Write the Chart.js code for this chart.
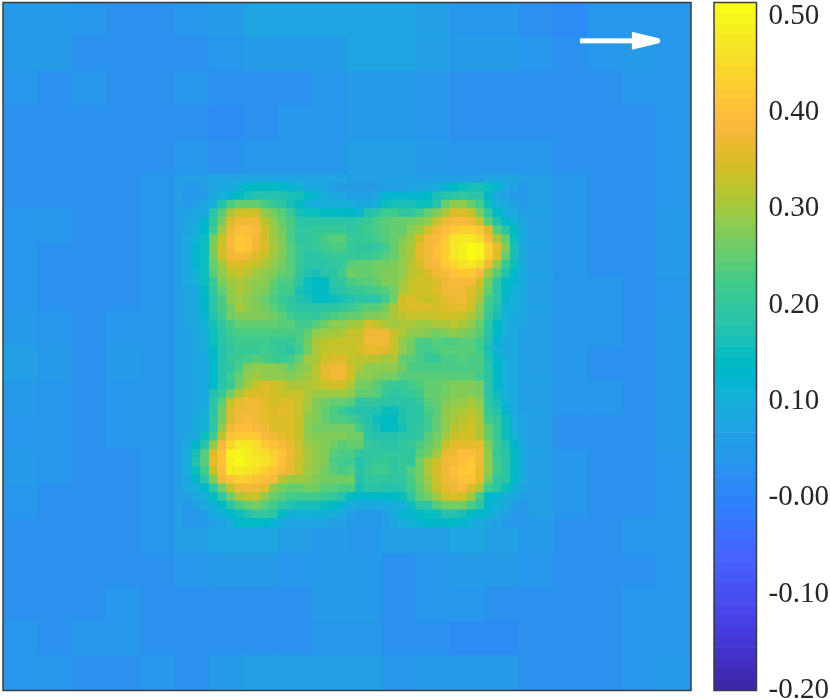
<!DOCTYPE html>
<html>
<head>
<meta charset="utf-8">
<title>Heatmap</title>
<script src="https://cdn.jsdelivr.net/npm/chart.js@4/dist/chart.umd.js"></script>
<style>
    html, body { margin: 0; padding: 0; background: #fff; overflow: hidden; }
    canvas { position: absolute; top: 0; }
    #heatChart { left: 0; }
    #barChart { left: 700px; }
</style>
</head>
<body>
<canvas id="heatChart" width="700" height="699"></canvas>
<canvas id="barChart" width="130" height="699"></canvas>
<script>
"use strict";

const GRID_SIZE = 80;
const COLOR_MIN = -0.2;
const COLOR_MAX = 0.514;

const tickValues = [0.5, 0.4, 0.3, 0.2, 0.1, 0, -0.1, -0.2];
const tickLabels = ["0.50", "0.40", "0.30", "0.20", "0.10", "-0.00", "-0.10", "-0.20"];

// arrow position in grid cells
const arrowStart = [67.1, 4.46];
const arrowEnd = [76.5, 4.46];

// surroundings, 4x4 cell blocks, values x100, null = covered by centerRows
const blockSize = 4;
const outerRows = [
    [5,5,4,3,3,4,5,7,7,7,7,7,6,4,4,3,2,4,4,4],
    [5,5,3,3,3,3,4,5,5,5,7,7,6,5,5,4,3,4,5,4],
    [4,3,4,3,3,4,3,3,3,4,5,5,4,3,3,3,3,3,4,4],
    [3,3,3,3,3,3,2,3,4,4,5,5,4,3,3,3,3,3,3,4],
    [3,3,3,3,3,4,3,4,4,4,6,6,5,4,4,4,3,3,3,4],
    [3,3,3,3,4,6,7,7,7,7,6,6,6,6,7,6,4,3,3,4],
    [4,4,3,3,4,6,null,null,null,null,null,null,null,null,null,6,4,3,3,5],
    [4,3,3,3,4,6,null,null,null,null,null,null,null,null,null,6,4,3,3,5],
    [4,3,3,3,4,6,null,null,null,null,null,null,null,null,null,6,4,4,3,4],
    [5,4,3,4,4,6,null,null,null,null,null,null,null,null,null,6,4,4,3,5],
    [6,5,3,5,4,6,null,null,null,null,null,null,null,null,null,6,4,3,3,5],
    [5,4,3,4,4,6,null,null,null,null,null,null,null,null,null,6,4,4,3,5],
    [4,4,3,4,4,6,null,null,null,null,null,null,null,null,null,6,3,3,3,5],
    [5,4,3,3,4,6,null,null,null,null,null,null,null,null,null,6,4,3,3,4],
    [4,3,3,3,4,6,null,null,null,null,null,null,null,null,null,6,4,3,3,4],
    [3,3,3,3,4,6,7,7,6,5,4,6,6,7,6,5,3,3,4,4],
    [3,3,3,3,3,4,5,5,4,5,5,3,4,5,5,4,3,3,3,4],
    [3,3,3,4,3,3,3,3,3,5,5,3,4,4,3,3,3,3,4,4],
    [4,3,4,4,3,3,3,3,3,4,4,3,3,2,2,3,3,3,4,4],
    [4,4,3,3,4,3,5,6,6,6,6,4,5,5,5,3,3,3,4,5]
];

// center of the map, single cells from (21,21) to (60,60), values x100
const centerOrigin = 21;
const centerRows = [
    [5,5,6,7,8,9,11,13,14,14,14,13,12,11,9,8,7,6,5,5,5,5,5,6,6,6,7,7,8,9,12,13,15,16,16,15,12,8,6,5],
    [5,5,5,8,10,12,14,16,17,17,17,17,16,16,14,12,10,9,7,6,6,6,7,12,12,12,12,12,13,16,17,19,20,19,18,13,8,6,5,5],
    [5,6,7,10,17,23,25,25,25,23,21,19,16,14,11,10,10,10,10,10,8,9,11,15,16,16,16,15,15,19,25,28,28,25,22,15,10,8,7,5],
    [6,7,9,18,24,31,34,34,34,29,26,24,21,16,15,15,14,14,14,13,12,17,19,22,22,20,20,22,25,27,31,35,35,33,26,20,13,10,8,6],
    [7,8,13,20,26,35,37,37,37,32,28,25,23,19,19,18,19,19,19,19,20,21,23,24,25,25,26,27,29,33,37,39,39,38,33,24,17,13,11,7],
    [7,10,13,22,30,37,40,40,39,34,30,26,23,20,20,21,21,21,21,20,21,22,23,24,25,25,28,30,34,37,40,42,43,43,41,35,24,19,14,8],
    [8,11,15,26,33,39,42,41,37,34,30,27,23,20,20,21,23,24,24,21,21,21,22,24,25,27,30,34,37,39,42,46,47,47,45,39,31,25,15,9],
    [8,12,15,27,34,39,42,41,37,35,31,27,24,21,20,21,22,23,23,21,20,20,20,22,25,28,31,36,38,40,43,47,49,51,50,43,36,27,16,9],
    [8,12,15,26,34,38,39,37,35,33,30,27,24,21,19,19,20,21,21,21,21,21,22,24,25,28,31,36,38,40,43,47,49,51,50,43,35,25,16,9],
    [8,12,15,25,30,35,35,34,33,31,29,26,24,21,18,18,19,20,21,24,25,25,26,26,27,28,32,34,38,39,42,44,46,47,45,38,28,21,15,9],
    [8,11,15,24,29,32,33,32,30,29,27,25,24,20,17,16,18,19,22,26,25,25,26,27,27,29,32,33,35,37,39,41,42,42,39,30,24,17,13,9],
    [8,10,15,21,27,30,31,30,28,28,25,23,23,18,15,14,14,18,20,23,24,24,25,27,27,30,33,34,34,35,38,39,39,39,34,26,20,14,12,9],
    [7,9,14,20,25,29,31,30,27,27,24,22,22,16,15,14,14,17,18,21,21,22,23,24,26,31,33,34,34,35,37,38,38,35,32,25,19,13,11,8],
    [7,8,13,19,23,28,30,29,27,25,23,21,20,17,16,14,14,15,16,17,18,18,19,22,26,34,35,34,33,34,36,37,38,35,31,23,18,12,10,8],
    [7,8,13,19,23,26,31,29,27,26,24,22,20,19,18,18,18,19,20,21,23,24,24,26,31,34,35,35,35,34,35,36,36,34,29,22,17,11,10,8],
    [7,8,12,17,22,26,27,27,27,27,26,24,22,21,21,20,22,23,24,25,25,27,27,29,31,32,33,33,33,33,34,34,33,31,27,21,16,11,9,7],
    [7,8,11,16,20,23,25,25,25,25,25,24,24,22,22,24,26,28,29,30,31,34,33,31,30,31,31,30,30,31,31,32,31,29,25,19,14,10,9,7],
    [6,7,10,15,19,22,23,23,23,23,23,23,23,23,25,29,30,30,31,33,33,37,37,37,33,31,29,28,27,26,27,28,27,26,24,19,13,10,8,6],
    [6,7,10,15,18,21,22,22,22,22,21,21,21,23,26,31,32,33,33,33,34,37,38,37,33,29,26,23,23,24,23,23,24,24,22,17,12,9,8,6],
    [6,7,10,14,17,20,21,21,21,22,21,20,19,22,26,31,33,33,33,33,34,36,36,35,33,28,26,23,22,23,24,24,24,24,22,16,11,9,8,6],
    [6,7,9,13,17,21,22,23,24,23,22,21,22,25,30,31,34,35,35,33,32,32,32,30,31,25,24,23,21,21,23,23,24,23,23,17,13,10,8,6],
    [6,7,9,13,18,20,23,27,29,29,29,27,25,27,29,32,36,37,37,34,31,29,29,28,28,26,23,23,23,23,23,23,23,23,23,18,13,10,8,6],
    [6,7,9,13,17,22,25,29,30,29,29,28,27,28,30,32,36,37,37,34,28,29,27,26,26,24,24,24,24,24,24,24,24,24,22,18,13,10,8,6],
    [6,7,9,13,18,21,26,30,33,35,34,33,31,31,31,32,33,34,34,31,26,26,24,22,21,21,22,23,25,25,26,27,27,27,26,18,13,10,8,6],
    [6,7,9,17,21,26,31,34,35,35,34,33,33,33,31,30,30,30,30,29,25,25,24,21,20,20,21,22,25,25,26,27,27,27,26,19,15,10,8,6],
    [6,7,9,18,24,33,36,37,37,36,34,35,35,33,31,27,26,25,25,24,20,20,20,19,18,18,19,20,24,25,27,29,29,31,29,20,16,11,8,6],
    [6,7,10,18,26,35,37,38,38,36,35,36,35,33,30,27,25,23,21,19,17,17,17,15,15,17,18,19,23,24,28,30,31,32,30,21,17,12,9,6],
    [6,8,11,20,26,35,38,39,38,36,35,35,35,33,29,27,25,23,23,22,20,17,15,14,14,17,18,19,22,25,28,31,32,33,31,22,20,15,10,7],
    [6,8,11,19,29,37,40,40,39,37,35,35,35,33,29,26,26,26,26,26,22,18,16,14,14,16,18,20,22,25,29,32,33,34,31,25,21,15,10,7],
    [7,9,15,22,32,41,42,42,42,39,38,36,35,33,29,27,27,27,27,26,26,19,17,17,17,18,18,20,24,26,30,33,34,34,31,25,21,15,11,7],
    [9,13,18,28,39,44,47,47,45,42,41,39,36,33,30,29,27,26,24,25,25,21,20,19,19,20,21,23,25,27,33,36,36,36,36,27,22,17,13,8],
    [10,16,24,35,41,50,50,49,46,45,43,41,37,34,31,29,27,24,23,23,20,20,20,20,20,20,20,24,26,30,36,38,40,40,37,28,21,19,14,8],
    [10,17,24,36,41,49,51,49,47,46,44,40,36,33,31,28,27,23,22,22,17,20,21,21,20,21,20,26,31,34,37,39,41,42,37,28,22,19,14,8],
    [10,15,22,33,40,47,47,46,45,43,41,39,36,33,30,29,26,24,23,24,18,21,22,22,20,21,24,26,31,35,38,40,42,42,36,28,22,19,14,8],
    [9,13,18,27,37,41,43,43,41,40,39,32,30,30,29,27,26,26,26,26,17,20,20,20,20,20,23,26,30,34,37,39,41,41,36,26,20,18,13,8],
    [8,10,13,20,26,33,38,38,38,36,29,26,25,25,26,26,24,24,23,23,16,18,18,17,17,19,22,25,28,33,36,38,39,35,31,22,18,15,11,7],
    [6,8,10,14,20,26,31,33,33,28,25,24,22,22,22,22,21,20,17,14,13,13,13,13,13,15,20,24,26,30,34,35,34,30,22,13,12,10,8,6],
    [5,6,8,11,14,18,23,25,26,24,22,18,17,16,16,16,15,14,12,10,8,9,9,9,10,10,15,18,19,24,26,26,26,23,19,12,11,8,6,5],
    [4,5,6,8,11,13,15,17,20,20,18,14,11,11,11,11,11,10,8,6,5,5,5,6,10,12,12,14,15,15,17,17,16,14,13,12,9,7,5,4],
    [4,4,5,6,7,10,13,14,14,13,12,9,7,7,7,7,7,6,6,5,5,5,5,6,7,10,11,12,13,13,13,13,12,11,9,7,6,5,4,4]
];

// parula, 64 levels
const colormap = [
    [0.2422,0.1504,0.6603],[0.2504,0.1650,0.7076],[0.2578,0.1818,0.7511],[0.2647,0.1978,0.7952],
    [0.2706,0.2147,0.8364],[0.2751,0.2342,0.8710],[0.2783,0.2559,0.8991],[0.2803,0.2782,0.9221],
    [0.2813,0.3006,0.9414],[0.2810,0.3228,0.9579],[0.2795,0.3447,0.9717],[0.2760,0.3667,0.9829],
    [0.2699,0.3892,0.9906],[0.2602,0.4123,0.9952],[0.2440,0.4358,0.9988],[0.2206,0.4603,0.9973],
    [0.1963,0.4847,0.9892],[0.1834,0.5074,0.9798],[0.1786,0.5289,0.9682],[0.1764,0.5499,0.9520],
    [0.1687,0.5703,0.9359],[0.1540,0.5902,0.9218],[0.1460,0.6091,0.9079],[0.1380,0.6276,0.8973],
    [0.1248,0.6459,0.8883],[0.1113,0.6635,0.8763],[0.0952,0.6798,0.8598],[0.0689,0.6948,0.8394],
    [0.0297,0.7082,0.8163],[0.0036,0.7203,0.7917],[0.0067,0.7312,0.7660],[0.0433,0.7411,0.7394],
    [0.0964,0.7500,0.7120],[0.1408,0.7584,0.6842],[0.1717,0.7670,0.6554],[0.1938,0.7758,0.6251],
    [0.2161,0.7843,0.5923],[0.2470,0.7918,0.5567],[0.2906,0.7973,0.5188],[0.3406,0.8008,0.4789],
    [0.3909,0.8029,0.4354],[0.4456,0.8024,0.3909],[0.5044,0.7993,0.3480],[0.5616,0.7942,0.3045],
    [0.6174,0.7876,0.2612],[0.6720,0.7793,0.2227],[0.7242,0.7698,0.1910],[0.7738,0.7598,0.1646],
    [0.8203,0.7498,0.1535],[0.8634,0.7406,0.1596],[0.9035,0.7330,0.1774],[0.9393,0.7288,0.2100],
    [0.9728,0.7298,0.2394],[0.9956,0.7434,0.2371],[0.9970,0.7659,0.2199],[0.9952,0.7893,0.2028],
    [0.9892,0.8136,0.1885],[0.9786,0.8386,0.1766],[0.9676,0.8639,0.1643],[0.9610,0.8890,0.1537],
    [0.9597,0.9135,0.1423],[0.9628,0.9373,0.1265],[0.9691,0.9606,0.1064],[0.9769,0.9839,0.0805]
];

const toCss = c => `rgb(${c.map(x => Math.round(x * 255)).join(",")})`;

const colorFor = (value) => {
    const i = Math.floor((value - COLOR_MIN) / (COLOR_MAX - COLOR_MIN) * colormap.length);
    return toCss(colormap[Math.max(0, Math.min(colormap.length - 1, i))]);
};

function buildDataset(rows, origin, cellsPerValue) {
    const points = [];
    const colors = [];
    rows.forEach((row, r) => {
        row.forEach((v, c) => {
            if (v === null) return;
            points.push({
                x: origin + (c + 0.5) * cellsPerValue,
                y: origin + (r + 0.5) * cellsPerValue
            });
            colors.push(colorFor(v / 100));
        });
    });
    return { points, colors };
}

const outer = buildDataset(outerRows, 0, blockSize);
const center = buildDataset(centerRows, centerOrigin, 1);

// rect points have a side of radius * sqrt(2), one pixel of overlap hides the seams
const CELL_PX = 688 / GRID_SIZE;
const pointRadius = cells => (cells * CELL_PX + 1) / Math.SQRT2;

const framePlugin = {
    id: "frame",
    afterDraw(chart) {
        const { ctx, chartArea: a } = chart;
        ctx.save();
        ctx.strokeStyle = "#3c3c3c";
        ctx.lineWidth = 1.5;
        ctx.strokeRect(a.left, a.top, a.right - a.left, a.bottom - a.top);
        ctx.restore();
    }
};

const arrowPlugin = {
    id: "arrow",
    afterDatasetsDraw(chart) {
        const { ctx, scales } = chart;
        const x0 = scales.x.getPixelForValue(arrowStart[0]);
        const x1 = scales.x.getPixelForValue(arrowEnd[0]);
        const y = scales.y.getPixelForValue(arrowStart[1]);
        ctx.save();
        ctx.fillStyle = "#ffffff";
        ctx.fillRect(x0, y - 2.5, x1 - x0 - 20, 5);
        ctx.beginPath();
        ctx.moveTo(x1 - 29, y - 9);
        ctx.lineTo(x1 - 2, y - 2.5);
        ctx.quadraticCurveTo(x1 + 1, y, x1 - 2, y + 2.5);
        ctx.lineTo(x1 - 29, y + 9);
        ctx.closePath();
        ctx.fill();
        ctx.restore();
    }
};

new Chart(document.getElementById("heatChart"), {
    type: "scatter",
    data: {
        // the first dataset is painted last
        datasets: [
            {
                data: center.points,
                pointStyle: "rect",
                pointRadius: pointRadius(1),
                pointBorderWidth: 0,
                pointBackgroundColor: center.colors
            },
            {
                data: outer.points,
                pointStyle: "rect",
                pointRadius: pointRadius(blockSize),
                pointBorderWidth: 0,
                pointBackgroundColor: outer.colors
            }
        ]
    },
    options: {
        responsive: false,
        animation: false,
        events: [],
        layout: { autoPadding: false, padding: { left: 3, top: 2.5, right: 9, bottom: 8.5 } },
        plugins: { legend: { display: false }, tooltip: { enabled: false } },
        scales: {
            x: { type: "linear", display: false, min: 0, max: GRID_SIZE },
            y: { type: "linear", display: false, min: 0, max: GRID_SIZE, reverse: true }
        }
    },
    plugins: [arrowPlugin, framePlugin]
});

const levelSize = (COLOR_MAX - COLOR_MIN) / colormap.length;

new Chart(document.getElementById("barChart"), {
    type: "bar",
    data: {
        labels: [""],
        datasets: colormap.map((c, i) => ({
            data: [[COLOR_MIN + i * levelSize, COLOR_MIN + (i + 1) * levelSize]],
            backgroundColor: toCss(c),
            borderWidth: 0,
            barPercentage: 1,
            categoryPercentage: 1,
            grouped: false
        }))
    },
    options: {
        responsive: false,
        animation: false,
        events: [],
        layout: { padding: { left: 14, top: 2.5, right: 0, bottom: 8.5 } },
        plugins: { legend: { display: false }, tooltip: { enabled: false } },
        scales: {
            x: { display: false },
            y: {
                position: "right",
                min: COLOR_MIN,
                max: COLOR_MAX,
                afterBuildTicks: (scale) => { scale.ticks = tickValues.map(value => ({ value })); },
                afterFit: (scale) => {
                    scale.width = 73.5;
                    scale.paddingTop = 0;
                    scale.paddingBottom = 0;
                },
                border: { display: false },
                grid: { drawOnChartArea: false, tickLength: -7, tickColor: "#333333", tickWidth: 1 },
                ticks: {
                    autoSkip: false,
                    maxRotation: 0,
                    padding: 19,
                    color: "#262626",
                    font: { family: "'Liberation Serif', serif", size: 29 },
                    callback: (value, i) => tickLabels[i]
                }
            }
        }
    },
    plugins: [framePlugin]
});
</script>
</body>
</html>
